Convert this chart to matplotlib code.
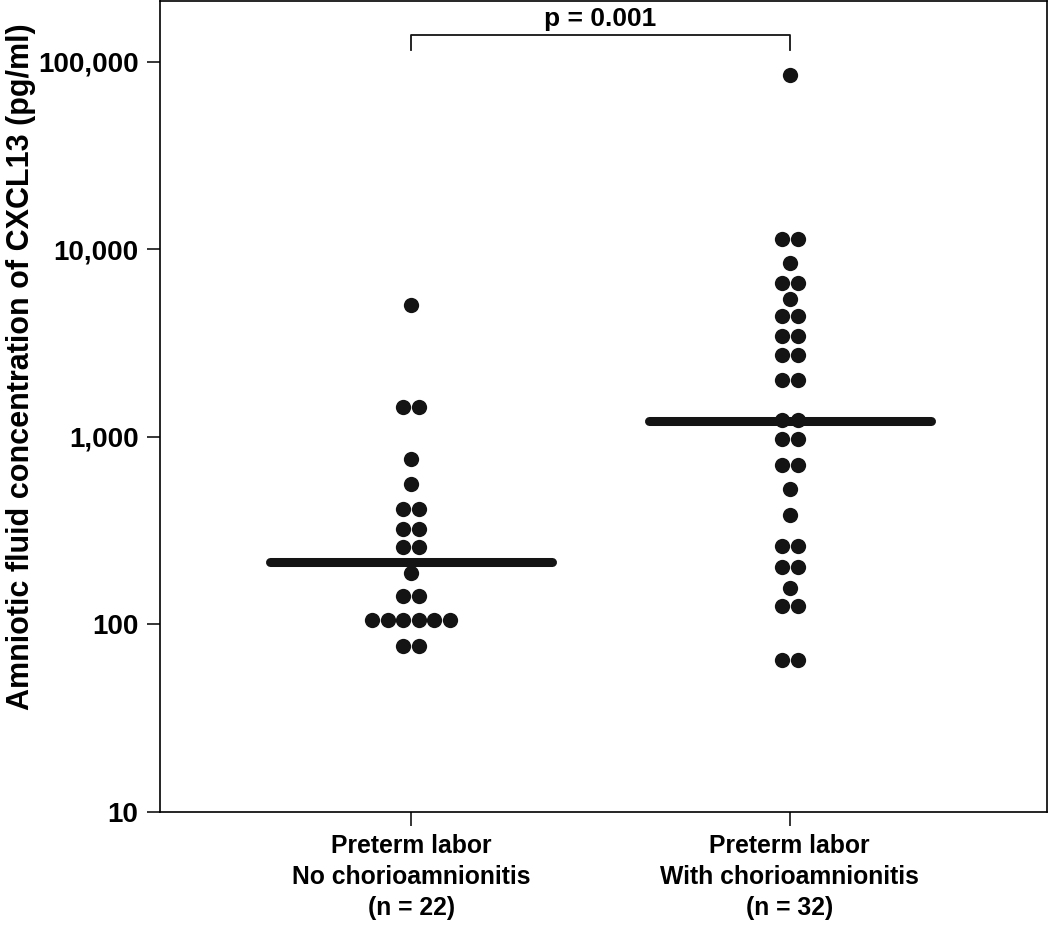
import numpy as np
import matplotlib.pyplot as plt
from matplotlib.ticker import FixedLocator, FixedFormatter, NullLocator

plt.rcParams['font.family'] = ['Liberation Sans', 'DejaVu Sans']
plt.rcParams['font.weight'] = 'bold'

# CXCL13 (pg/ml), one entry per patient
no_chorio = [5060, 1450, 1450, 760, 561, 413, 413, 322, 322, 258, 258, 189,
             142, 142, 106, 106, 106, 106, 106, 106, 77, 77]
with_chorio = [85000, 11300, 11300, 8440, 6610, 6610, 5470, 4440, 4440,
               3460, 3460, 2750, 2750, 2000, 2000, 1235, 1235, 972, 972,
               707, 707, 526, 384, 262, 262, 203, 203, 156, 126, 126, 64.7, 64.7]
medians = [214, 1216]
groups = ["Preterm labor\nNo chorioamnionitis\n(n = 22)",
          "Preterm labor\nWith chorioamnionitis\n(n = 32)"]
yticks = [10, 100, 1000, 10000, 100000]
ytick_labels = ["10", "100", "1,000", "10,000", "100,000"]
p_text = "p = 0.001"

fig = plt.figure(figsize=(10.5, 9.26), dpi=100)
ax = fig.add_axes([0.1524, 0.1231, 0.8446, 0.8758])

spacing = 0.041  # horizontal offset between touching dots
for i, vals in enumerate([no_chorio, with_chorio]):
    vals = np.array(vals, dtype=float)
    xs = np.zeros(len(vals))
    for v in np.unique(vals):
        idx = np.where(vals == v)[0]
        n = len(idx)
        xs[idx] = i + (np.arange(n) - (n - 1) / 2) * spacing
    ax.plot(xs, vals, 'o', color='#141414', markersize=11,
            markeredgewidth=0, zorder=3)
    ax.plot([i - 0.372, i + 0.372], [medians[i], medians[i]], color='#141414',
            linewidth=6.5, solid_capstyle='round', zorder=4)

# significance bracket
ax.plot([0, 0, 1, 1], [116000, 139000, 139000, 116000], color='#141414',
        linewidth=1.3)
ax.text(0.5, 146000, p_text, ha='center', va='bottom', fontsize=19,
        fontweight='bold')

ax.set_yscale('log')
ax.set_ylim(10, 211000)
ax.set_xlim(-0.663, 1.679)
ax.yaxis.set_major_locator(FixedLocator(yticks))
ax.yaxis.set_major_formatter(FixedFormatter(ytick_labels))
ax.yaxis.set_minor_locator(NullLocator())
ax.set_xticks([0, 1])
ax.set_xticklabels(groups, fontsize=17.8, fontweight='bold', linespacing=1.35)
ax.tick_params(axis='y', labelsize=20, length=9.5, width=1.1, pad=6)
ax.tick_params(axis='x', length=10, width=1.1, pad=6)
for s in ax.spines.values():
    s.set_linewidth(1.2)
ax.set_ylabel("Amniotic fluid concentration of CXCL13 (pg/ml)", fontsize=22,
              fontweight='bold')
ax.yaxis.set_label_coords(-0.14, 0.549)

fig.savefig("out.png", dpi=100)
